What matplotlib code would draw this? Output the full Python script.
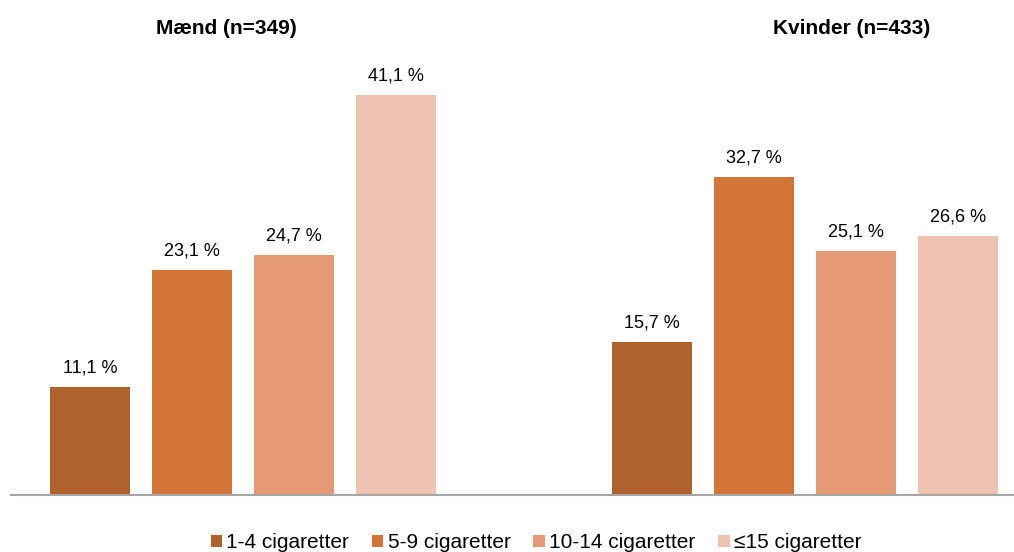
import matplotlib
matplotlib.use("Agg")
import matplotlib.pyplot as plt
from matplotlib.patches import Patch

groups = ["Mænd (n=349)", "Kvinder (n=433)"]
series = ["1-4 cigaretter", "5-9 cigaretter", "10-14 cigaretter", "≤15 cigaretter"]
maend = [11.1, 23.1, 24.7, 41.1]
kvinder = [15.7, 32.7, 25.1, 26.6]
colors = ["#B0622C", "#D27537", "#E59A76", "#EEC3B2"]

plt.rcParams['font.family'] = ['Liberation Sans', 'DejaVu Sans']

fig = plt.figure(figsize=(10.14, 5.52), dpi=100)
ax = fig.add_axes([11/1014, 57/552, 1003/1014, 438/552])

group_centers = [0, 5.51]
offsets = [-1.5, -0.5, 0.5, 1.5]
width = 0.784
data = [maend, kvinder]
for gi, vals in enumerate(data):
    for si, v in enumerate(vals):
        x = group_centers[gi] + offsets[si]
        ax.bar(x, v, width=width, color=colors[si], zorder=2)
        ax.annotate(f"{v:.1f} %".replace(".", ","), (x, v), xytext=(0, 7.5),
                    textcoords="offset points", ha="center", va="bottom", fontsize=13)

title_x = [226, 852]
for gi, g in enumerate(groups):
    fig.text(title_x[gi] / 1014, 1 - 28/552, g, ha="center", va="center",
             fontsize=15, fontweight="bold")

ax.set_xlim(-2.275, 7.56)
ax.set_ylim(0, 45)
for s in ["top", "right", "left"]:
    ax.spines[s].set_visible(False)
ax.spines["bottom"].set_color("#A6A6A6")
ax.spines["bottom"].set_linewidth(1.5)
ax.set_xticks([])
ax.set_yticks([])
ax.patch.set_alpha(0)

handles = [Patch(facecolor=c, label=s) for c, s in zip(colors, series)]
fig.legend(handles=handles, loc="center", bbox_to_anchor=(536/1014, 1 - 543/552),
           ncol=4, frameon=False, fontsize=15, handlelength=0.55, handleheight=0.55,
           handletextpad=0.2, columnspacing=1.1)

fig.savefig("out.png", dpi=100)
